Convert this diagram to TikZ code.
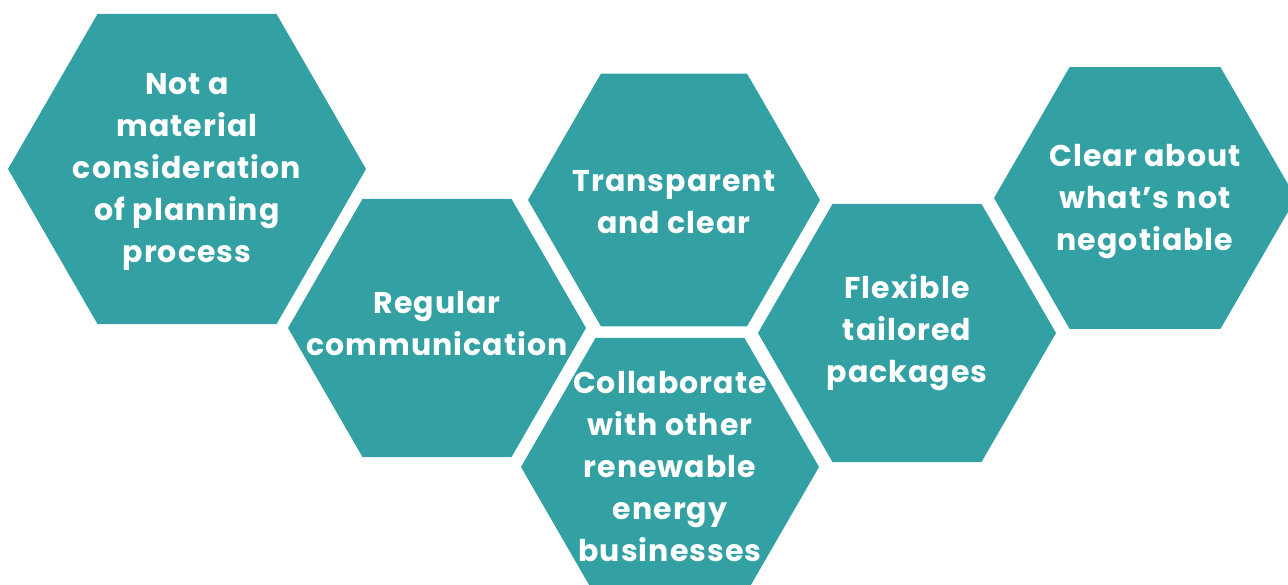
\documentclass[tikz,border=0pt]{standalone}
\usepackage{fontspec}
\setmainfont{Poppins}
\usetikzlibrary{shapes.geometric}
\definecolor{hexteal}{RGB}{51,161,164}

\begin{document}
\begin{tikzpicture}[
        x=1pt, y=-1pt,
        % hexagon cells (flat top and bottom)
        hexcell/.style={regular polygon, regular polygon sides=6, fill=hexteal, inner sep=0pt, outer sep=0pt, minimum size=#1},
        hexcell/.default=298pt,
        % white bold text inside the cells
        celltext/.style={text=white, font=\fontsize{30}{42}\selectfont\bfseries\addfontfeature{LetterSpace=3.5}, align=center, inner sep=0pt}
    ]
    \clip (0,0) rectangle (1288,584);

    % Cells
    \node (big)    [hexcell=358pt] at (187,169) {};
    \node (comms)  [hexcell]       at (437,328) {};
    \node (clear)  [hexcell=292pt] at (674,200) {};
    \node (collab) [hexcell]       at (670,467) {};
    \node (flex)   [hexcell]       at (907,333) {};
    \node (limits) [hexcell=302pt] at (1145,198) {};

    % Texts
    \node (bigtxt)    [celltext] at ([yshift=-3pt]big.center) {Not a\\material\\consideration\\of planning\\process};
    \node (commstxt)  [celltext] at ([yshift=4pt]comms.center) {Regular\\communication};
    \node (cleartxt)  [celltext] at ([yshift=-2pt]clear.center) {Transparent\\and clear};
    \node (collabtxt) [celltext] at (collab) {Collaborate\\with other\\renewable\\energy\\businesses};
    \node (flextxt)   [celltext] at (flex)   {Flexible\\tailored\\packages};
    \node (limitstxt) [celltext] at ([yshift=-4pt]limits.center) {Clear about\\what’s not\\negotiable};

\end{tikzpicture}
\end{document}
